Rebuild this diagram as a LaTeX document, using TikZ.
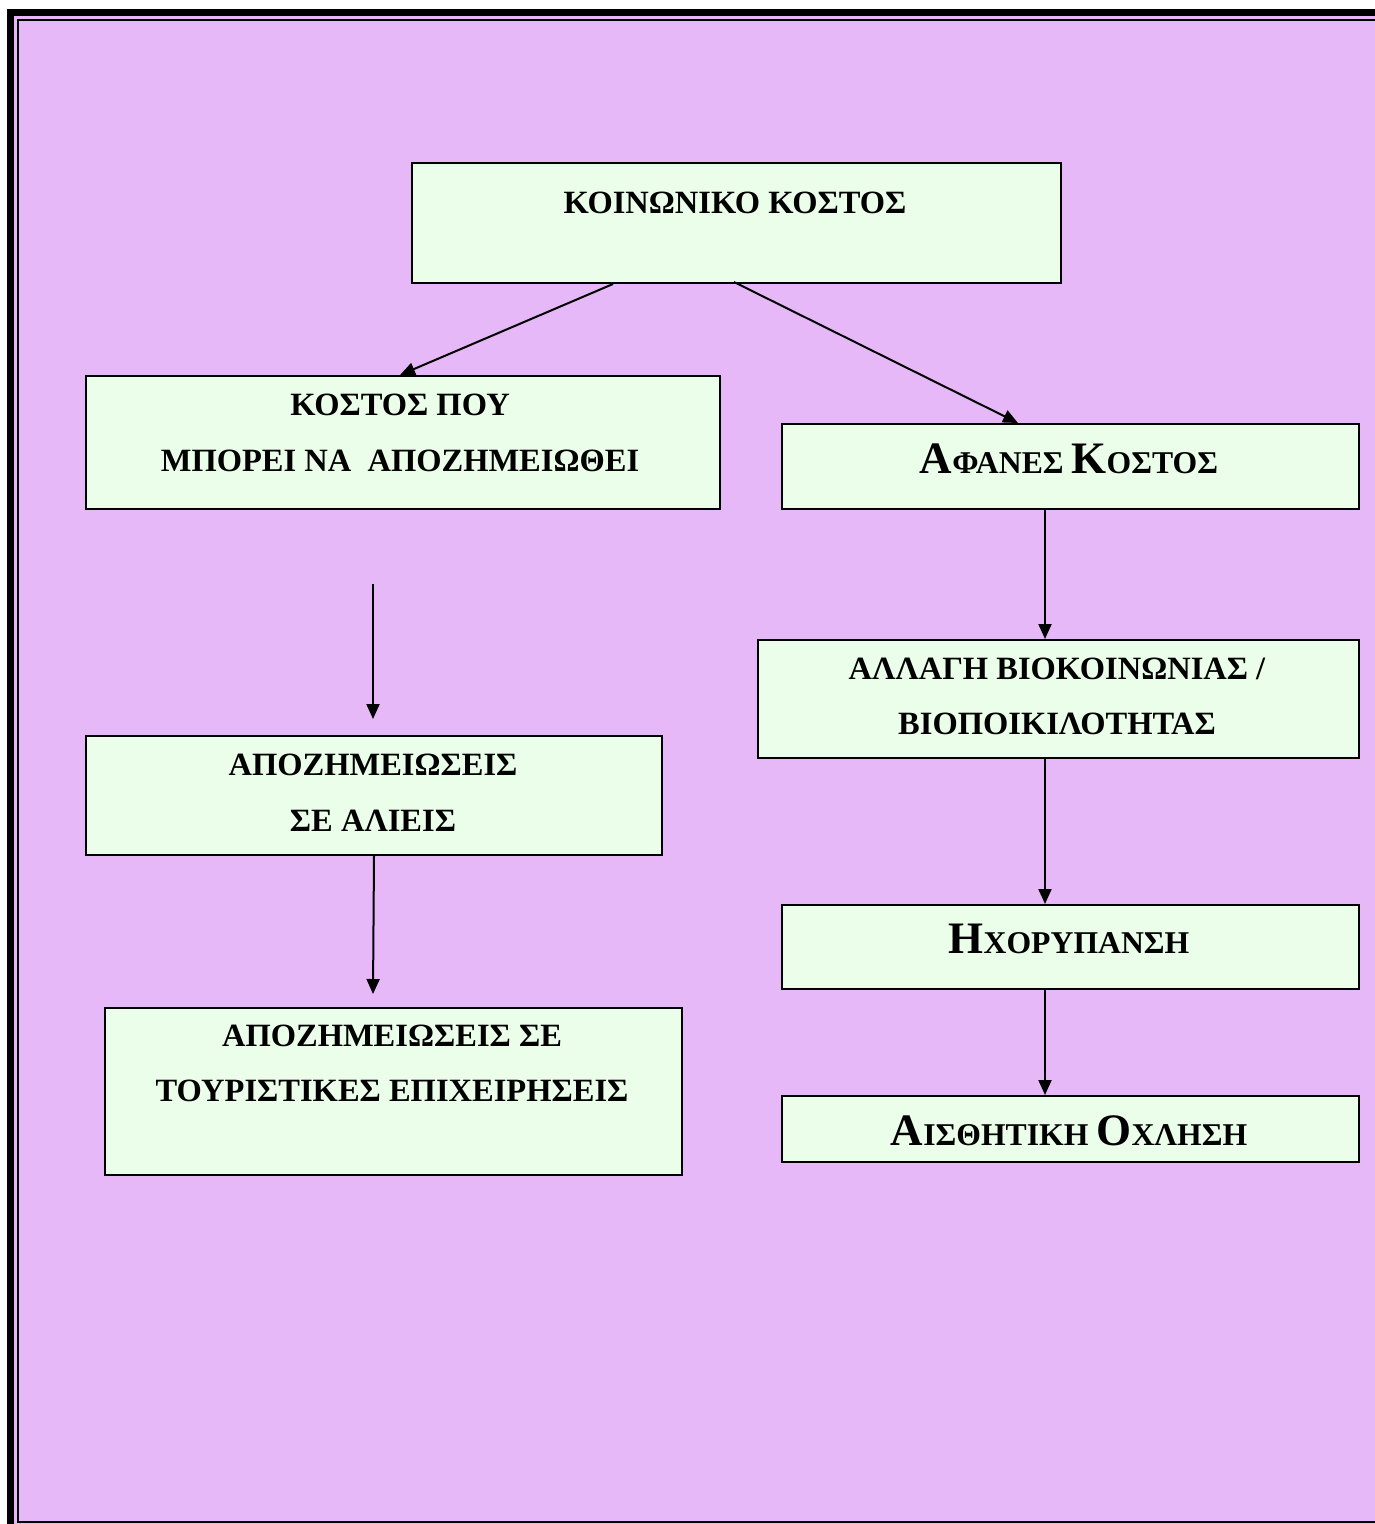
\documentclass[tikz,border=0pt]{standalone}
\usepackage{fontspec}
\setmainfont{Liberation Serif}
\usetikzlibrary{arrows.meta,calc}
\definecolor{bgpurple}{RGB}{230,184,248}
\definecolor{boxgreen}{RGB}{234,254,234}
\tikzset{
  box/.style={draw=black, line width=2pt, fill=boxgreen, inner sep=0pt, anchor=north west},
  lbl/.style={anchor=base, inner sep=0pt, font=\bfseries\fontsize{32.5}{38}\selectfont},
  arr/.style={line width=2pt, -{Triangle[length=15pt,width=13pt]}},
}
\newcommand{\bigsc}[2]{{\fontsize{45}{50}\selectfont #1}{\fontsize{31.7}{36}\selectfont #2}}
\begin{document}
\begin{tikzpicture}[x=1pt,y=-1pt]
\useasboundingbox (0,0) rectangle (1375,1524);
\begin{scope}
\clip (0,0) rectangle (1375,1524);
\fill[white] (0,0) rectangle (1375,1524);
\fill[bgpurple] (7,9) rectangle (1420,1560);
\draw[line width=7pt] (10.5,12.5) rectangle (1410,1550);
\draw[line width=2pt] (18,20) rectangle (1395,1521.5);
\end{scope}

% boxes
\node[box, minimum width=649pt, minimum height=120pt] (b1) at (411,162) {};
\node[box, minimum width=634pt, minimum height=133pt] (b2) at (85,375) {};
\node[box, minimum width=577pt, minimum height=85pt]  (b3) at (781,423) {};
\node[box, minimum width=601pt, minimum height=118pt] (b4) at (757,639) {};
\node[box, minimum width=577pt, minimum height=84pt]  (b5) at (781,904) {};
\node[box, minimum width=577pt, minimum height=66pt]  (b6) at (781,1095) {};
\node[box, minimum width=576pt, minimum height=119pt] (b7) at (85,735) {};
\node[box, minimum width=577pt, minimum height=167pt] (b8) at (104,1007) {};

% labels
\node[lbl] (t1) at (735,213) {ΚΟΙΝΩΝΙΚΟ ΚΟΣΤΟΣ};
\node[lbl] (t2a) at (400,415) {ΚΟΣΤΟΣ ΠΟΥ};
\node[lbl] (t2b) at (400,471) {ΜΠΟΡΕΙ ΝΑ \ ΑΠΟΖΗΜΕΙΩΘΕΙ};
\node[lbl] (t3) at (1069,473) {\bigsc{Α}{ΦΑΝΕΣ} \bigsc{Κ}{ΟΣΤΟΣ}};
\node[lbl] (t4a) at (1057,679) {ΑΛΛΑΓΗ ΒΙΟΚΟΙΝΩΝΙΑΣ /};
\node[lbl] (t4b) at (1057,734) {ΒΙΟΠΟΙΚΙΛΟΤΗΤΑΣ};
\node[lbl] (t5) at (1069,953) {\bigsc{Η}{ΧΟΡΥΠΑΝΣΗ}};
\node[lbl] (t6) at (1069,1145) {\bigsc{Α}{ΙΣΘΗΤΙΚΗ} \bigsc{Ο}{ΧΛΗΣΗ}};
\node[lbl] (t7a) at (373,775) {ΑΠΟΖΗΜΕΙΩΣΕΙΣ};
\node[lbl] (t7b) at (373,831) {ΣΕ ΑΛΙΕΙΣ};
\node[lbl] (t8a) at (392,1046) {ΑΠΟΖΗΜΕΙΩΣΕΙΣ ΣΕ};
\node[lbl] (t8b) at (392,1101) {ΤΟΥΡΙΣΤΙΚΕΣ ΕΠΙΧΕΙΡΗΣΕΙΣ};

% connectors
\coordinate (a3s) at (373,584);
\coordinate (a3e) at (373,719);
\coordinate (a4e) at (373,994);
\draw[arr] ($(b1.south west)+(202,0)$) -- ($(b2.north west)+(315,0)$);
\draw[arr] ($(b1.south west)+(323,-2)$) -- ($(b3.north west)+(237,0)$);
\draw[arr] (a3s) -- (a3e);
\draw[arr] (b7.south) -- (a4e);
\draw[arr] ($(b3.south west)+(264,0)$) -- ($(b4.north west)+(288,0)$);
\draw[arr] ($(b4.south west)+(288,0)$) -- ($(b5.north west)+(264,0)$);
\draw[arr] ($(b5.south west)+(264,0)$) -- ($(b6.north west)+(264,0)$);
\end{tikzpicture}
\end{document}
